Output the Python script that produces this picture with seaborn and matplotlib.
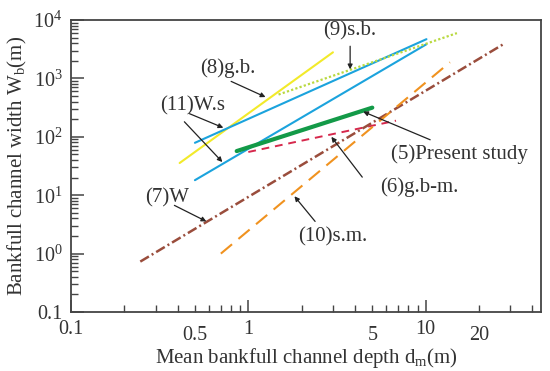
import numpy as np
import pandas as pd
import seaborn as sns
import matplotlib
matplotlib.use("Agg")
import matplotlib.pyplot as plt
from matplotlib.ticker import FixedLocator, NullFormatter, LogLocator

# ## data: end points of the width-depth relations (depth d_m in m, width W_b in m)
line_names = ["(8)g.b.", "(11)W.s a", "(11)W.s b", "(9)s.b.", "(5)Present study",
              "(6)g.b-m.", "(7)W", "(10)s.m."]
depth_start = [0.41, 0.50, 0.50, 1.48, 0.86, 1.00, 0.246, 0.70]
depth_end = [3.0, 10.1, 10.1, 15.0, 5.0, 6.8, 28.0, 13.7]
width_start = [35.6, 79.0, 18.1, 530.0, 57.0, 55.0, 0.73, 1.0]
width_end = [2800.0, 4700.0, 3850.0, 5970.0, 316.0, 189.0, 4010.0, 1890.0]

# labels written on the chart
labels = ["(8)g.b.", "(11)W.s", "(9)s.b.", "(5)Present study", "(6)g.b-m.", "(10)s.m.", "(7)W"]
x_tick_labels = ["0.1", "0.5", "1", "5", "10", "20"]
y_tick_labels = ["0.1", r"$10^0$", r"$10^1$", r"$10^2$", r"$10^3$", r"$10^4$"]

rows = []
for n, x0, x1, y0, y1 in zip(line_names, depth_start, depth_end, width_start, width_end):
    rows.append({"line": n, "depth": x0, "width": y0})
    rows.append({"line": n, "depth": x1, "width": y1})
lines_df = pd.DataFrame(rows)

sns.set_style("ticks")
plt.rcParams['font.family'] = ['Liberation Serif', 'DejaVu Serif']
plt.rcParams['mathtext.fontset'] = 'custom'
plt.rcParams['mathtext.rm'] = 'Liberation Serif'
plt.rcParams['mathtext.it'] = 'Liberation Serif:italic'

# styles per line (color, width, dashes)
styles = {
    "(8)g.b.": ("#f2ea2a", 1.5, None),
    "(11)W.s a": ("#1ba3dd", 1.5, None),
    "(11)W.s b": ("#1ba3dd", 1.5, None),
    "(9)s.b.": ("#b9d940", 1.6, (1, 1)),
    "(5)Present study": ("#139a48", 3.0, None),
    "(6)g.b-m.": ("#d6284c", 1.4, (4, 3)),
    "(7)W": ("#9a4d3c", 1.8, (4, 1.3, 0.8, 1.3)),
    "(10)s.m.": ("#f0921f", 1.5, (7, 4)),
}

fig = plt.figure(figsize=(5.5, 3.71), dpi=100)
ax = fig.add_axes([0.129, 0.159, 0.855, 0.787])

for n in line_names:
    col, lw, dash = styles[n]
    sub = lines_df[lines_df.line == n]
    sns.lineplot(data=sub, x="depth", y="width", color=col, linewidth=lw, ax=ax,
                 sort=False, estimator=None)
    if dash is not None:
        ax.lines[-1].set_dashes(dash)

ax.set_xscale("log")
ax.set_yscale("log")
ax.set_xlim(0.1, 44.8)
ax.set_ylim(0.1, 1e4)

txt = "#333333"
# annotations: (text, text position, arrow tail, arrow tip)
notes = [
    (labels[0], (0.77, 1490), [((0.80, 890), (1.25, 480))]),
    (labels[1], (0.484, 342), [((0.466, 249), (0.723, 143)), ((0.436, 181), (0.714, 37))]),
    (labels[2], (3.71, 6460), [((3.75, 3560), (3.75, 1430))]),
    (labels[3], (15.4, 51), [((10.6, 89), (4.44, 270))]),
    (labels[4], (9.2, 13.7), [((4.39, 20.4), (2.94, 100))]),
    (labels[5], (3.01, 1.96), [((2.38, 3.56), (1.82, 9.6))]),
    (labels[6], (0.35, 8.9), [((0.383, 6.7), (0.58, 3.56))]),
]
for text, pos, arrows in notes:
    ax.text(pos[0], pos[1], text, ha="center", va="center", fontsize=15, color=txt)
    for tail, tip in arrows:
        ax.annotate("", xy=tip, xytext=tail,
                    arrowprops=dict(arrowstyle="-|>", color="#222222", lw=0.9,
                                    mutation_scale=7, shrinkA=0, shrinkB=0))

# x ticks
ax.set_xticks([0.1, 1, 10], [x_tick_labels[0], x_tick_labels[2], x_tick_labels[4]])
ax.xaxis.set_minor_locator(FixedLocator([0.2, 0.3, 0.4, 0.5, 0.6, 0.7, 0.8, 0.9,
                                         2, 3, 4, 5, 6, 7, 8, 9, 20, 30, 40]))
ax.xaxis.set_minor_formatter(matplotlib.ticker.FuncFormatter(
    lambda v, p: {0.5: x_tick_labels[1], 5: x_tick_labels[3], 20: x_tick_labels[5]}.get(round(v, 3), "")))

# y ticks
ax.set_yticks([0.1, 1, 10, 100, 1000, 10000], y_tick_labels)
ax.yaxis.set_minor_locator(LogLocator(base=10, subs=np.arange(2, 10), numticks=20))
ax.yaxis.set_minor_formatter(NullFormatter())

ax.tick_params(axis="both", which="major", direction="in", length=9, width=1.1,
               colors="#444444", labelcolor=txt, labelsize=14.5, pad=6)
ax.tick_params(axis="both", which="minor", direction="in", length=5, width=1.0,
               colors="#444444", labelcolor=txt, labelsize=14.5, pad=6)
ax.tick_params(axis="x", which="minor", pad=10)

for s in ax.spines.values():
    s.set_color("#444444")
    s.set_linewidth(1.3)

ax.set_xlabel(r"Mean bankfull channel depth d$_{\rm m}$(m)", fontsize=15, color=txt, labelpad=1)
ax.set_ylabel(r"Bankfull channel width W$_{\rm b}$(m)", fontsize=15, color=txt, labelpad=3)

fig.savefig("out.png", dpi=100)
